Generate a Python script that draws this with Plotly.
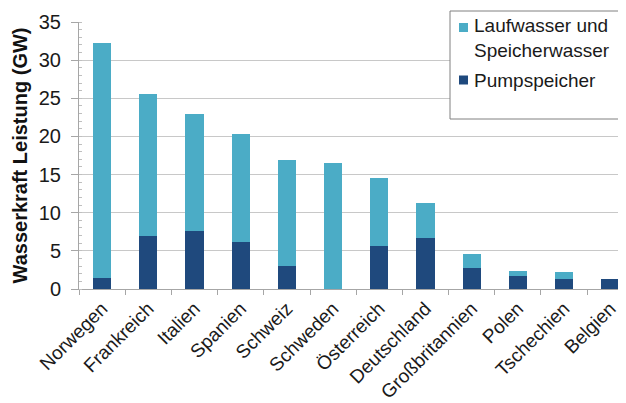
import plotly.graph_objects as go

laender = ["Norwegen", "Frankreich", "Italien", "Spanien", "Schweiz", "Schweden",
           "Österreich", "Deutschland", "Großbritannien", "Polen", "Tschechien", "Belgien"]
pumpspeicher = [1.4, 6.9, 7.6, 6.1, 3.0, 0.0, 5.6, 6.75, 2.8, 1.7, 1.25, 1.35]
gesamt = [32.2, 25.5, 22.95, 20.3, 16.95, 16.5, 14.6, 11.25, 4.65, 2.35, 2.2, 1.35]
lauf_speicher = [round(g - p, 2) for g, p in zip(gesamt, pumpspeicher)]
serien = ["Laufwasser und<br>Speicherwasser", "Pumpspeicher"]

C_LIGHT = "#4BACC6"
C_DARK = "#1F497D"
TXT = "#1a1a1a"
FONT = "Liberation Sans, Arial, sans-serif"

fig = go.Figure()
fig.add_trace(go.Bar(x=laender, y=pumpspeicher, name=serien[1],
                     marker=dict(color=C_DARK, line=dict(width=0)), showlegend=False))
fig.add_trace(go.Bar(x=laender, y=lauf_speicher, name=serien[0],
                     marker=dict(color=C_LIGHT, line=dict(width=0)), showlegend=False))

# page body has an 8px margin: figure is drawn at offset (8, 8)
OFF = 8
W, H = 626 - OFF, 403 - OFF
# plot area in screen pixels: x 79..626, y 22..289
L, R, T, B = 79 - OFF, 0, 22 - OFF, 403 - 289
pw, ph = W - L - R, H - T - B

def px_x(px):
    return (px - OFF - L) / pw

def px_y(py):
    return (T + ph - (py - OFF)) / ph

fig.update_layout(
    width=W, height=H,
    margin=dict(l=L, r=R, t=T, b=B, pad=0, autoexpand=False),
    barmode="stack", bargap=0.61,
    paper_bgcolor="white", plot_bgcolor="white",
    font=dict(family=FONT, size=19, color=TXT),
    showlegend=False,
    xaxis=dict(range=[-0.5, 11.34], showgrid=False, showline=True,
               linecolor="#A6A6A6", linewidth=1,
               ticks="outside", ticklen=5, tickcolor="#A6A6A6",
               tickson="boundaries", tickangle=-45,
               tickfont=dict(size=19, family=FONT, color=TXT)),
    yaxis=dict(range=[0, 35], dtick=5, showgrid=True, gridcolor="#C8C8C8", gridwidth=1,
               showline=True, linecolor="#A6A6A6", linewidth=1,
               ticks="outside", ticklen=7, tickcolor="#A6A6A6",
               ticklabelstandoff=6,
               minor=dict(dtick=1, ticks="inside", ticklen=3, tickcolor="#BFBFBF", showgrid=False),
               tickfont=dict(size=20, family=FONT, color=TXT),
               title=dict(text="<b>Wasserkraft Leistung (GW)</b>", standoff=5,
                          font=dict(size=20, family=FONT, color="#111111")),
               zeroline=False),
)

# legend box
fig.add_shape(type="rect", xref="paper", yref="paper",
              x0=px_x(450), x1=px_x(621), y0=px_y(119), y1=px_y(11),
              line=dict(color="#808080", width=1), fillcolor="white", layer="above")
# legend markers and texts
for name, color, cy, ty in [(serien[0], C_LIGHT, 27.5, 38), (serien[1], C_DARK, 80, 80)]:
    fig.add_shape(type="rect", xref="paper", yref="paper",
                  x0=px_x(459), x1=px_x(468), y0=px_y(cy + 4.5), y1=px_y(cy - 4.5),
                  line=dict(width=0), fillcolor=color, layer="above")
    fig.add_annotation(xref="paper", yref="paper", x=px_x(472), y=px_y(ty),
                       xanchor="left", yanchor="middle", showarrow=False, align="left",
                       text=name, font=dict(size=19, family=FONT, color=TXT))

fig.write_html("out.html")
